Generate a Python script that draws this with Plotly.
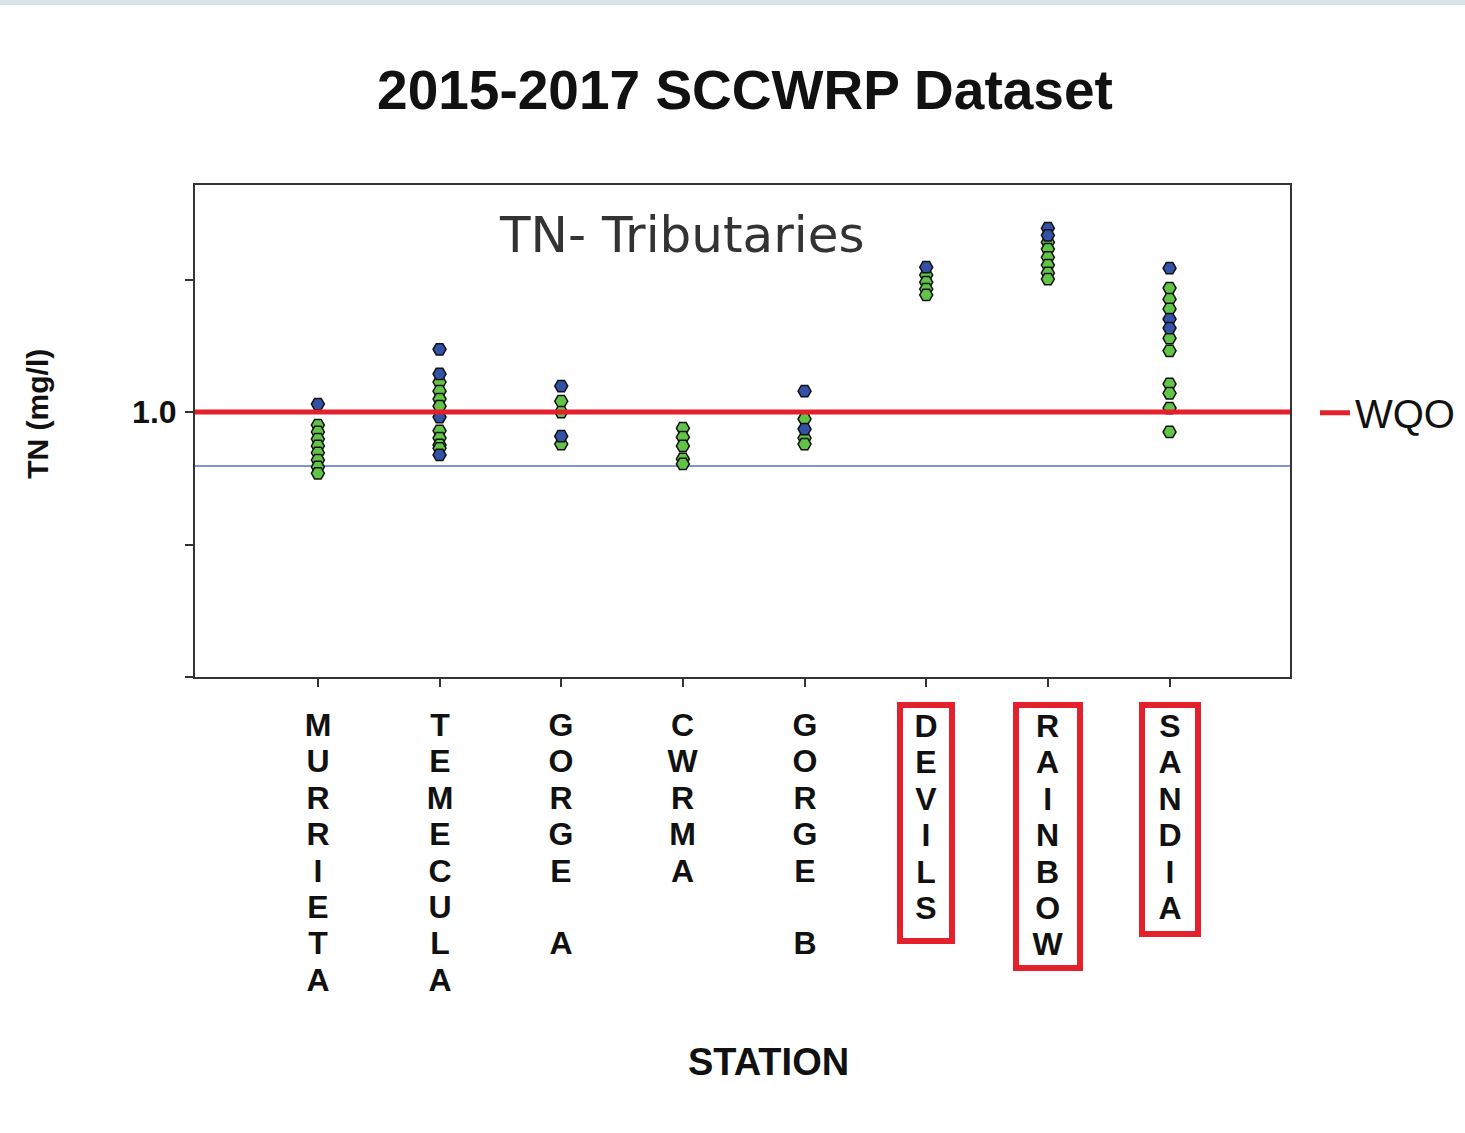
import plotly.graph_objects as go

# stations along the x axis
stations = ["MURRIETA", "TEMECULA", "GORGE A", "CWRMA", "GORGE B", "DEVILS", "RAINBOW", "SANDIA"]
highlighted = ["DEVILS", "RAINBOW", "SANDIA"]

# TN (mg/l) samples per station
green_station = (["MURRIETA"] * 8 + ["TEMECULA"] * 8 + ["GORGE A"] * 3 + ["CWRMA"] * 5
                 + ["GORGE B"] * 3 + ["DEVILS"] * 4 + ["RAINBOW"] * 6 + ["SANDIA"] * 9)
green_tn = [0.951, 0.925, 0.898, 0.872, 0.846, 0.819, 0.793, 0.769,
            1.113, 1.079, 1.049, 1.022, 0.929, 0.902, 0.876, 0.863,
            1.041, 1.000, 0.879,
            0.939, 0.905, 0.872, 0.823, 0.804,
            0.974, 0.902, 0.879,
            1.517, 1.490, 1.464, 1.442,
            1.641, 1.615, 1.584, 1.555, 1.525, 1.502,
            1.468, 1.426, 1.389, 1.279, 1.231, 1.106, 1.071, 1.015, 0.925]

blue_station = (["MURRIETA"] + ["TEMECULA"] * 4 + ["GORGE A"] * 2 + ["GORGE B"] * 2
                + ["DEVILS"] + ["RAINBOW"] * 2 + ["SANDIA"] * 3)
blue_tn = [1.030,
           1.237, 1.144, 0.981, 0.838,
           1.098, 0.909,
           1.079, 0.936,
           1.547,
           1.694, 1.667,
           1.543, 1.351, 1.317]

wqo = 1.0
blue_ref = 0.796

y_ticks = [0, 0.5, 1.0, 1.5]
y_ticktext = ["", "", "<b>1.0</b>", ""]

xpos = {s: i for i, s in enumerate(stations)}
x_lo, x_hi = -1.01, 7.99

# red box sizes around the highlighted labels (text width, text height in px)
box_size = {"DEVILS": (46, 230), "RAINBOW": (58, 257), "SANDIA": (50, 223)}

fig = go.Figure()

fig.add_trace(go.Scatter(x=[x_lo, x_hi], y=[blue_ref, blue_ref], mode="lines",
                         line=dict(color="#8193d6", width=2), showlegend=False, hoverinfo="skip"))

fig.add_trace(go.Scatter(x=[xpos[s] for s in green_station], y=green_tn, mode="markers",
                         marker=dict(symbol="hexagon2", size=13, color="#62c447",
                                     line=dict(color="#111111", width=1.5)),
                         showlegend=False))
fig.add_trace(go.Scatter(x=[xpos[s] for s in blue_station], y=blue_tn, mode="markers",
                         marker=dict(symbol="hexagon2", size=13, color="#3451a8",
                                     line=dict(color="#111111", width=1.5)),
                         showlegend=False))

fig.add_trace(go.Scatter(x=[x_lo, x_hi], y=[wqo, wqo], mode="lines", name="WQO",
                         line=dict(color="#e3202b", width=5)))

# vertical station labels, one letter per line
for s in stations:
    letters = "<br>".join('<span style="font-size:32px"><b>%s</b></span>' % (c if c != " " else "&nbsp;")
                          for c in s)
    if s in highlighted:
        w, h = box_size[s]
        fig.add_annotation(x=xpos[s], y=0, xref="x", yref="paper", yanchor="top", yshift=-25,
                           text=letters, showarrow=False, width=w, height=h, valign="top",
                           font=dict(family="Liberation Sans", size=28, color="#111111"),
                           bordercolor="#e3202b", borderwidth=6, borderpad=0)
    else:
        fig.add_annotation(x=xpos[s], y=0, xref="x", yref="paper", yanchor="top", yshift=-28,
                           text=letters, showarrow=False, width=46,
                           font=dict(family="Liberation Sans", size=28, color="#111111"))

fig.add_annotation(x=0.524, y=-0.7825, xref="paper", yref="paper", text="<b>STATION</b>",
                   xanchor="center", yanchor="middle", showarrow=False,
                   font=dict(family="Liberation Sans", size=38, color="#111111"))
fig.add_annotation(x=-0.1434, y=0.535, xref="paper", yref="paper", text="<b>TN (mg/l)</b>",
                   xanchor="center", yanchor="middle", textangle=-90, showarrow=False,
                   font=dict(family="Liberation Sans", size=30, color="#111111"))
fig.add_annotation(x=0.444, y=0.898, xref="paper", yref="paper", text="TN- Tributaries",
                   xanchor="center", yanchor="middle", showarrow=False,
                   font=dict(family="DejaVu Sans", size=50, color="#333333"))

# thin strip along the top edge of the page
fig.add_shape(type="rect", xref="paper", yref="paper", x0=-0.2, x1=1.2, y0=1.366, y1=1.4,
              fillcolor="#d8e3ea", line_width=0, layer="below")

fig.update_layout(
    width=1465, height=1133,
    margin=dict(l=195, r=175, t=185, b=456, autoexpand=False),
    paper_bgcolor="white", plot_bgcolor="white",
    title=dict(text="<b>2015-2017 SCCWRP Dataset</b>", x=0.5085, xanchor="center",
               y=0.9206, yanchor="middle",
               font=dict(family="Liberation Sans", size=55, color="#111111")),
    legend=dict(x=1.0228, y=0.537, xanchor="left", yanchor="middle", bgcolor="rgba(0,0,0,0)",
                font=dict(family="Liberation Sans", size=40, color="#111111"),
                itemwidth=30),
)
fig.update_xaxes(range=[x_lo, x_hi], tickvals=list(range(len(stations))), showticklabels=False,
                 ticks="outside", ticklen=8, tickwidth=2, tickcolor="#333333",
                 showline=True, linecolor="#333333", linewidth=2, mirror=True,
                 showgrid=False, zeroline=False)
fig.update_yaxes(range=[0, 1.857], tickvals=y_ticks, ticktext=y_ticktext,
                 ticks="outside", ticklen=8, tickwidth=2, tickcolor="#333333",
                 tickfont=dict(family="Liberation Sans", size=32, color="#111111"),
                 ticklabelstandoff=2,
                 showline=True, linecolor="#333333", linewidth=2, mirror=True,
                 showgrid=False, zeroline=False)

fig.write_html("out.html", config={"displayModeBar": False},
               post_script="document.body.style.margin='0';document.body.style.overflow='hidden';")
